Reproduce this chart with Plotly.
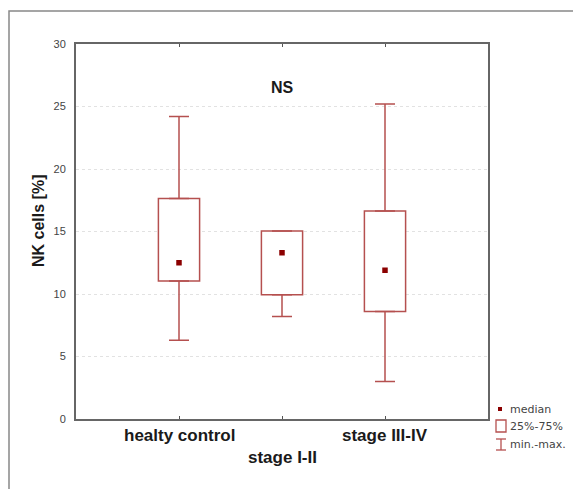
import plotly.graph_objects as go

categories = ["healty control", "stage I-II", "stage III-IV"]
mins = [6.3, 8.2, 3.0]
q1s = [11.05, 9.95, 8.6]
medians = [12.5, 13.3, 11.9]
q3s = [17.65, 15.05, 16.65]
maxs = [24.2, 15.05, 25.2]
y_ticks = [0, 5, 10, 15, 20, 25, 30]
legend_labels = ["median", "25%-75%", "min.-max."]

RED = "#b5504f"
DARK = "#8b0000"
FONT = "Liberation Sans, Arial, sans-serif"

OFF = 8  # page body margin
W, H = 581 - OFF, 489 - OFF
# target page pixel positions of plot area
PL, PR, PT, PB = 76, 488, 44, 419
ML, MR, MT, MB = PL - OFF, (W + OFF) - PR, PT - OFF, (H + OFF) - PB
PW, PH = PR - PL, PB - PT


def px(xp):
    return (xp - PL) / PW


def py(yp):
    return (PB - yp) / PH


xpos = list(range(1, len(categories) + 1))

fig = go.Figure()

# box bodies
fig.add_trace(go.Bar(
    x=xpos,
    y=[q3 - q1 for q1, q3 in zip(q1s, q3s)],
    base=q1s,
    width=0.4,
    marker=dict(color="white", line=dict(color=RED, width=1.5)),
    showlegend=False, hoverinfo="skip",
))
# upper whiskers
fig.add_trace(go.Scatter(
    x=xpos, y=q3s, mode="markers",
    marker=dict(size=1, color="rgba(0,0,0,0)"),
    error_y=dict(type="data", symmetric=False,
                 array=[mx - q3 for mx, q3 in zip(maxs, q3s)],
                 arrayminus=[0] * len(q3s),
                 color=RED, thickness=1.5, width=10),
    showlegend=False, hoverinfo="skip",
))
# lower whiskers
fig.add_trace(go.Scatter(
    x=xpos, y=q1s, mode="markers",
    marker=dict(size=1, color="rgba(0,0,0,0)"),
    error_y=dict(type="data", symmetric=False,
                 array=[0] * len(q1s),
                 arrayminus=[q1 - mn for q1, mn in zip(q1s, mins)],
                 color=RED, thickness=1.5, width=10),
    showlegend=False, hoverinfo="skip",
))
# medians
fig.add_trace(go.Scatter(
    x=xpos, y=medians, mode="markers",
    marker=dict(symbol="square", size=5.5, color=DARK),
    showlegend=False, hoverinfo="skip",
))

annotations = []
# category labels (staggered)
for i, (xv, lab) in enumerate(zip(xpos, categories)):
    ypix = 436 if i % 2 == 0 else 457
    annotations.append(dict(
        x=xv, xref="x", y=py(ypix), yref="paper", text="<b>" + lab + "</b>", showarrow=False,
        xanchor="center", yanchor="middle",
        font=dict(family=FONT, size=17, color="#1a1a1a"), ))
# y title
annotations.append(dict(
    x=px(38), xref="paper", y=py(221), yref="paper", text="<b>NK cells [%]</b>",
    showarrow=False, textangle=-90, xanchor="center", yanchor="middle",
    font=dict(family=FONT, size=16, color="#1a1a1a")))
# NS
annotations.append(dict(
    x=2, xref="x", y=py(87), yref="paper", text="<b>NS</b>", showarrow=False,
    xanchor="center", yanchor="middle",
    font=dict(family=FONT, size=16, color="#1a1a1a")))
# legend texts
for lab, ypix in zip(legend_labels, [409, 426, 444]):
    annotations.append(dict(
        x=px(508), xref="paper", y=py(ypix), yref="paper", text=lab, showarrow=False,
        xanchor="left", yanchor="middle",
        font=dict(family="DejaVu Sans, Verdana, sans-serif", size=11, color="#444")))

shapes = [
    # outer frame
    dict(type="rect", xref="paper", yref="paper", x0=px(9), x1=px(640), y0=py(540), y1=py(11),
         line=dict(color="#888", width=1.5), layer="below"),
    # legend: median
    dict(type="rect", xref="paper", yref="paper", x0=px(498), x1=px(502), y0=py(411), y1=py(407),
         line=dict(width=0), fillcolor=DARK),
    # legend: box
    dict(type="rect", xref="paper", yref="paper", x0=px(496), x1=px(506), y0=py(432), y1=py(420),
         line=dict(color=RED, width=1.3), fillcolor="white"),
    # legend: whisker
    dict(type="line", xref="paper", yref="paper", x0=px(501), x1=px(501), y0=py(450), y1=py(439),
         line=dict(color=RED, width=1.3)),
    dict(type="line", xref="paper", yref="paper", x0=px(496), x1=px(506), y0=py(439), y1=py(439),
         line=dict(color=RED, width=1.3)),
    dict(type="line", xref="paper", yref="paper", x0=px(496), x1=px(506), y0=py(450), y1=py(450),
         line=dict(color=RED, width=1.3)),
]

fig.update_layout(
    width=W, height=H,
    margin=dict(l=ML, r=MR, t=MT, b=MB, pad=0),
    paper_bgcolor="white", plot_bgcolor="white",
    font=dict(family=FONT),
    barmode="overlay",
    showlegend=False,
    annotations=annotations,
    shapes=shapes,
    xaxis=dict(range=[0, len(categories) + 1], tickvals=xpos, showticklabels=False,
               ticks="inside", ticklen=3, tickcolor="#555", tickwidth=1.3,
               showline=True, linecolor="#666", linewidth=2, mirror="ticks",
               showgrid=False, zeroline=False, fixedrange=True),
    yaxis=dict(range=[0, 30], tickvals=y_ticks, ticks="", ticklabelstandoff=6,
               tickfont=dict(family=FONT, size=11, color="#444"),
               showline=True, linecolor="#666", linewidth=2, mirror=True,
               showgrid=True, gridcolor="#e2e2e2", griddash="dot", gridwidth=1,
               zeroline=False, fixedrange=True),
)

fig.write_html("out.html")
